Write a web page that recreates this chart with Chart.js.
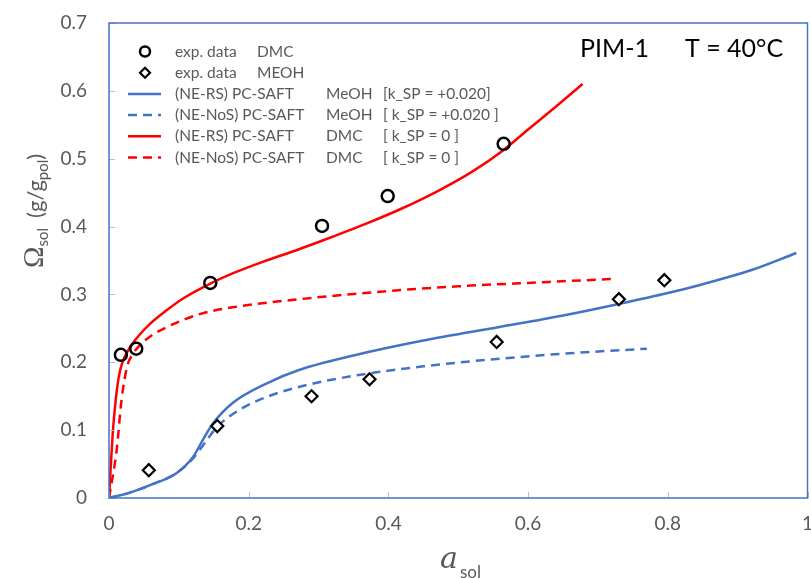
<!DOCTYPE html>
<html>
<head>
<meta charset="utf-8">
<script src="https://cdn.jsdelivr.net/npm/chart.js@4/dist/chart.umd.min.js"></script>
<style>
  html, body { margin: 0; padding: 0; background: #fff; overflow: hidden; }
  #wrap { width: 811px; height: 578px; overflow: hidden; }
</style>
</head>
<body>
<div id="wrap"><canvas id="chart" width="816" height="578"></canvas></div>
<script>
// tick labels
var xTicks = [0, 0.2, 0.4, 0.6, 0.8, 1];
var yTicks = [0, 0.1, 0.2, 0.3, 0.4, 0.5, 0.6, 0.7];

// experimental data
var dmcExpX  = [0.017, 0.039, 0.145, 0.305, 0.399, 0.565];
var dmcExpY  = [0.211, 0.220, 0.317, 0.401, 0.445, 0.522];
var meohExpX = [0.057, 0.155, 0.290, 0.373, 0.555, 0.730, 0.795];
var meohExpY = [0.041, 0.106, 0.150, 0.175, 0.230, 0.293, 0.321];

// model curves
var meohRsX  = [0, 0.03, 0.059, 0.097, 0.12, 0.134, 0.149, 0.177, 0.226, 0.273, 0.35, 0.45, 0.559, 0.65, 0.73, 0.80, 0.846, 0.92, 0.984];
var meohRsY  = [0, 0.008, 0.019, 0.037, 0.06, 0.085, 0.11, 0.14, 0.169, 0.189, 0.21, 0.232, 0.252, 0.269, 0.286, 0.302, 0.314, 0.336, 0.361];
var meohNosX = [0, 0.03, 0.059, 0.097, 0.12, 0.13, 0.155, 0.187, 0.226, 0.273, 0.35, 0.45, 0.567, 0.67, 0.77];
var meohNosY = [0, 0.008, 0.019, 0.037, 0.058, 0.071, 0.105, 0.13, 0.149, 0.164, 0.18, 0.194, 0.206, 0.214, 0.22];
var dmcRsX   = [0, 0.005, 0.0086, 0.012, 0.0157, 0.02, 0.026, 0.034, 0.045, 0.059, 0.083, 0.106, 0.145, 0.177, 0.22, 0.273, 0.32, 0.37, 0.42, 0.47, 0.52, 0.565, 0.60, 0.64, 0.678];
var dmcRsY   = [0, 0.09, 0.134, 0.165, 0.187, 0.202, 0.215, 0.228, 0.242, 0.257, 0.277, 0.294, 0.316, 0.331, 0.348, 0.367, 0.385, 0.405, 0.427, 0.452, 0.481, 0.513, 0.543, 0.577, 0.61];
var dmcNosX  = [0, 0.011, 0.018, 0.026, 0.034, 0.045, 0.059, 0.083, 0.13, 0.177, 0.273, 0.40, 0.50, 0.60, 0.724];
var dmcNosY  = [0, 0.071, 0.145, 0.194, 0.212, 0.226, 0.238, 0.252, 0.271, 0.281, 0.293, 0.305, 0.312, 0.317, 0.323];

var BLUE = '#4472C4';
var RED = '#FF0000';
var GREY = '#595959';
var SANS = 'Lato, "Open Sans", sans-serif';

function pts(xs, ys) {
	var out = [];
	for (var i = 0; i < xs.length; i++) {
		out.push({x: xs[i], y: ys[i]});
	}
	return out;
}

function curve(label, xs, ys, color, dash) {
	return {
		label: label,
		data: pts(xs, ys),
		showLine: true,
		borderColor: color,
		borderWidth: 2.5,
		borderDash: dash,
		pointRadius: 0,
		pointHoverRadius: 0,
		fill: false,
		cubicInterpolationMode: 'monotone'
	};
}

// legend rows: marker kind, color, columns of text
var legendRows = [
	{kind: 'circle',  text: ['exp. data', 'DMC']},
	{kind: 'diamond', text: ['exp. data', 'MEOH']},
	{kind: 'line', color: BLUE, dash: [], text: ['(NE-RS) PC-SAFT', 'MeOH', '[k_SP = +0.020]']},
	{kind: 'line', color: BLUE, dash: [9, 6], text: ['(NE-NoS) PC-SAFT', 'MeOH', '[ k_SP = +0.020 ]']},
	{kind: 'line', color: RED, dash: [], text: ['(NE-RS) PC-SAFT', 'DMC', '[ k_SP = 0 ]']},
	{kind: 'line', color: RED, dash: [9, 6], text: ['(NE-NoS) PC-SAFT', 'DMC', '[ k_SP = 0 ]']}
];

var decor = {
	id: 'decor',
	afterDraw: function(chart) {
		var ctx = chart.ctx;
		var a = chart.chartArea;
		var xs = chart.scales.x, ys = chart.scales.y;
		ctx.save();

		// inside tick marks
		ctx.strokeStyle = '#BFBFBF';
		ctx.lineWidth = 1;
		for (var i in xTicks) {
			var px = Math.round(xs.getPixelForValue(xTicks[i])) + 0.5;
			ctx.beginPath(); ctx.moveTo(px, a.bottom); ctx.lineTo(px, a.bottom - 6); ctx.stroke();
		}
		for (var j in yTicks) {
			var py = Math.round(ys.getPixelForValue(yTicks[j])) + 0.5;
			ctx.beginPath(); ctx.moveTo(a.left, py); ctx.lineTo(a.left + 6, py); ctx.stroke();
		}

		// plot border
		ctx.strokeStyle = BLUE;
		ctx.lineWidth = 1.5;
		ctx.strokeRect(a.left, a.top, a.right - a.left, a.bottom - a.top);

		// legend
		var colX = [a.left + 66, a.left + 148, a.left + 217, a.left + 274];
		ctx.font = '15.5px ' + SANS;
		ctx.fillStyle = GREY;
		ctx.textBaseline = 'middle';
		for (var r = 0; r < legendRows.length; r++) {
			var row = legendRows[r];
			var cy = a.top + 28.5 + r * 21.2;
			var mx = a.left + 36;
			ctx.save();
			if (row.kind == 'circle') {
				ctx.strokeStyle = '#000'; ctx.lineWidth = 2.5; ctx.fillStyle = '#fff';
				ctx.beginPath(); ctx.arc(mx, cy, 5, 0, Math.PI * 2); ctx.fill(); ctx.stroke();
			} else if (row.kind == 'diamond') {
				ctx.strokeStyle = '#000'; ctx.lineWidth = 2.2; ctx.fillStyle = '#fff';
				ctx.beginPath(); ctx.moveTo(mx, cy - 5); ctx.lineTo(mx + 5, cy); ctx.lineTo(mx, cy + 5); ctx.lineTo(mx - 5, cy); ctx.closePath();
				ctx.fill(); ctx.stroke();
			} else {
				ctx.strokeStyle = row.color; ctx.lineWidth = 2.5; ctx.setLineDash(row.dash);
				ctx.beginPath(); ctx.moveTo(mx - 17, cy); ctx.lineTo(mx + 16, cy); ctx.stroke();
			}
			ctx.restore();
			if (row.text.length == 2) {
				ctx.fillText(row.text[0], colX[0], cy);
				ctx.fillText(row.text[1], colX[1], cy);
			} else {
				ctx.fillText(row.text[0], colX[0], cy);
				ctx.fillText(row.text[1], colX[2], cy);
				ctx.fillText(row.text[2], colX[3], cy);
			}
		}

		// title inside plot
		ctx.fillStyle = '#000';
		ctx.textBaseline = 'alphabetic';
		ctx.font = '25px ' + SANS;
		ctx.fillText('PIM-1', 580, 57);
		ctx.fillText('T = 40\u00B0C', 685, 57);

		// x axis title: a_sol
		ctx.fillStyle = GREY;
		ctx.font = 'italic 30px "DejaVu Serif", "Liberation Serif", serif';
		ctx.fillText('a', 440, 568);
		ctx.font = '17px ' + SANS;
		ctx.fillText('sol', 460, 578);

		// y axis title: Omega_sol (g/g_pol)
		ctx.translate(43, 268);
		ctx.rotate(-Math.PI / 2);
		var x0 = 0;
		ctx.font = '29px "Liberation Serif", "DejaVu Serif", serif';
		ctx.fillText('\u03A9', x0, 0); x0 += ctx.measureText('\u03A9').width;
		ctx.font = '15px ' + SANS;
		ctx.fillText('sol', x0, 5); x0 += ctx.measureText('sol').width + 10;
		ctx.font = '22px ' + SANS;
		ctx.fillText('(g/g', x0, 0); x0 += ctx.measureText('(g/g').width;
		ctx.font = '15px ' + SANS;
		ctx.fillText('pol', x0, 5); x0 += ctx.measureText('pol').width;
		ctx.font = '22px ' + SANS;
		ctx.fillText(')', x0, 0);

		ctx.restore();
	}
};

var chart = new Chart(document.getElementById('chart'), {
	type: 'scatter',
	data: {
		datasets: [
			{
				label: 'exp. data DMC',
				data: pts(dmcExpX, dmcExpY),
				pointStyle: 'circle',
				pointRadius: 6,
				borderWidth: 2.5,
				borderColor: '#000',
				backgroundColor: 'rgba(255,255,255,0)'
			},
			{
				label: 'exp. data MEOH',
				data: pts(meohExpX, meohExpY),
				pointStyle: 'rectRot',
				pointRadius: 6,
				borderWidth: 2.2,
				borderColor: '#000',
				backgroundColor: '#fff'
			},
			curve('(NE-RS) PC-SAFT MeOH', meohRsX, meohRsY, BLUE, []),
			curve('(NE-NoS) PC-SAFT MeOH', meohNosX, meohNosY, BLUE, [9, 6]),
			curve('(NE-RS) PC-SAFT DMC', dmcRsX, dmcRsY, RED, []),
			curve('(NE-NoS) PC-SAFT DMC', dmcNosX, dmcNosY, RED, [9, 6])
		]
	},
	options: {
		responsive: false,
		animation: false,
		layout: { padding: { top: 23, right: 3, left: 0, bottom: 0 } },
		plugins: {
			legend: { display: false },
			tooltip: { enabled: false }
		},
		scales: {
			x: {
				type: 'linear',
				min: 0, max: 1,
				grid: { display: false, drawTicks: false },
				border: { display: false },
				afterBuildTicks: function(s) { s.ticks = xTicks.map(function(v) { return {value: v}; }); },
				afterFit: function(s) { s.height = 80; s.paddingLeft = 0; s.paddingRight = 0; },
				ticks: {
					color: GREY,
					padding: 14,
					maxRotation: 0,
					font: { family: SANS, size: 19 },
					callback: function(v) { return String(v); }
				}
			},
			y: {
				type: 'linear',
				min: 0, max: 0.7,
				grid: { display: false, drawTicks: false },
				border: { display: false },
				afterBuildTicks: function(s) { s.ticks = yTicks.map(function(v) { return {value: v}; }); },
				afterFit: function(s) { s.width = 109; s.paddingTop = 0; s.paddingBottom = 0; },
				ticks: {
					color: GREY,
					padding: 22,
					font: { family: SANS, size: 19 },
					callback: function(v) { return String(v); }
				}
			}
		}
	},
	plugins: [decor]
});
</script>
</body>
</html>
